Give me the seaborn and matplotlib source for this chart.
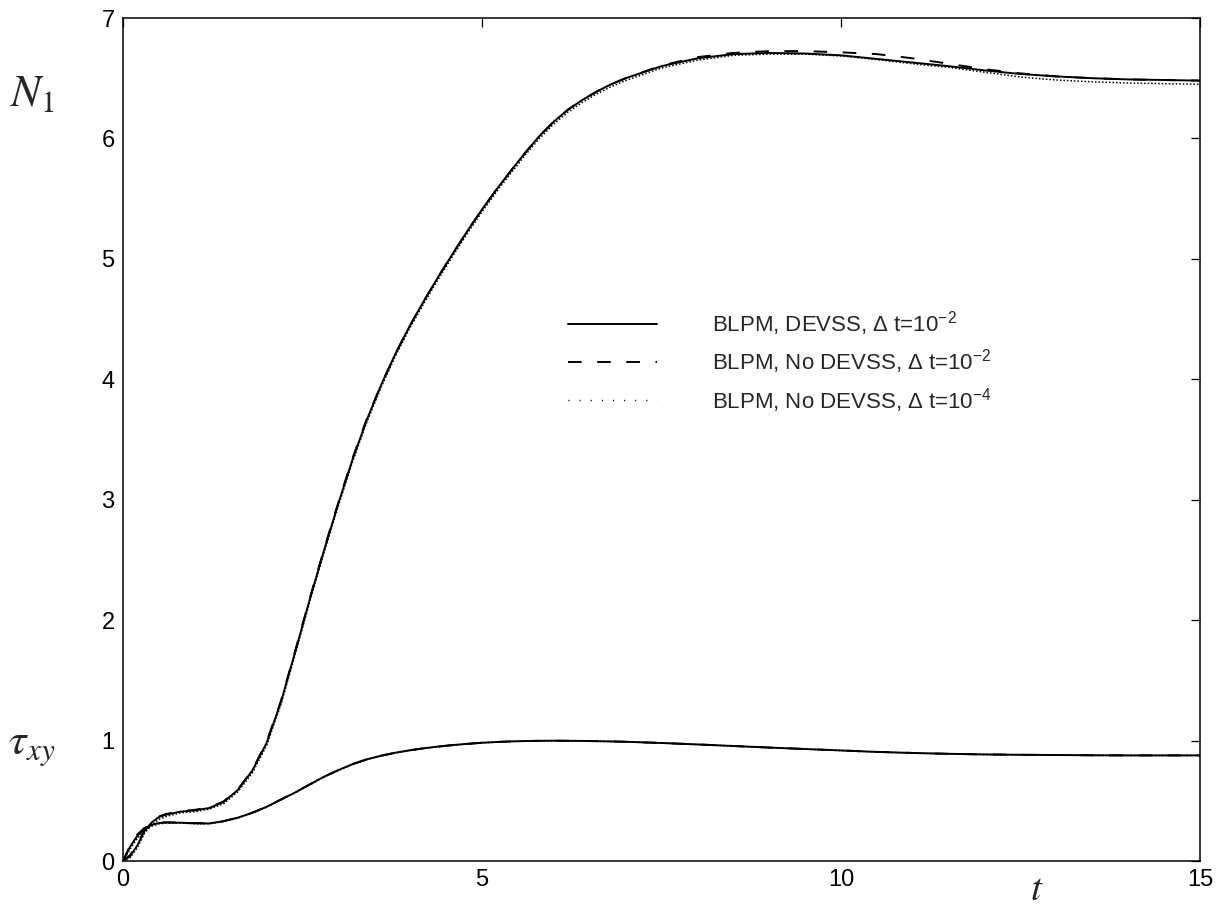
import numpy as np
import pandas as pd
import matplotlib
matplotlib.use("Agg")
import matplotlib.pyplot as plt
from matplotlib.lines import Line2D
import seaborn as sns

# Sample times (shared by all series)
t = [0.0, 0.1, 0.2, 0.3, 0.4, 0.5, 0.6, 0.8, 1.0, 1.2, 1.4, 1.6, 1.8, 2.0,
     2.2, 2.4, 2.6, 2.8, 3.0, 3.2, 3.4, 3.6, 3.8, 4.0, 4.2, 4.4, 4.6, 4.8,
     5.0, 5.2, 5.4, 5.6, 5.8, 6.0, 6.2, 6.4, 6.6, 6.8, 7.0, 7.5, 8.0, 8.5,
     9.0, 9.5, 10.0, 10.5, 11.0, 11.5, 12.0, 12.5, 13.0, 13.5, 14.0, 14.5,
     15.0]

# First normal stress difference N1
n1_devss_dt2 = [0.0, 0.04, 0.13, 0.25, 0.32, 0.365, 0.385, 0.41, 0.42, 0.44,
                0.49, 0.59, 0.75, 0.98, 1.32, 1.74, 2.17, 2.58, 2.97, 3.34,
                3.67, 3.96, 4.22, 4.45, 4.66, 4.86, 5.05, 5.235, 5.41, 5.575,
                5.73, 5.88, 6.02, 6.14, 6.24, 6.32, 6.39, 6.45, 6.50, 6.60,
                6.665, 6.70, 6.71, 6.705, 6.69, 6.66, 6.63, 6.60, 6.565,
                6.535, 6.515, 6.50, 6.49, 6.485, 6.48]
n1_nodevss_dt2 = [0.0, 0.05, 0.14, 0.26, 0.33, 0.37, 0.39, 0.415, 0.425, 0.445,
                  0.495, 0.595, 0.755, 0.99, 1.33, 1.75, 2.18, 2.59, 2.98,
                  3.35, 3.68, 3.96, 4.22, 4.45, 4.66, 4.86, 5.05, 5.235, 5.41,
                  5.575, 5.73, 5.88, 6.02, 6.14, 6.24, 6.32, 6.39, 6.45, 6.50,
                  6.605, 6.675, 6.71, 6.725, 6.725, 6.715, 6.70, 6.665, 6.62,
                  6.575, 6.54, 6.515, 6.50, 6.49, 6.485, 6.48]
n1_nodevss_dt4 = [0.0, 0.03, 0.11, 0.23, 0.30, 0.345, 0.37, 0.40, 0.41, 0.43,
                  0.475, 0.575, 0.73, 0.96, 1.30, 1.72, 2.15, 2.56, 2.95, 3.32,
                  3.65, 3.94, 4.20, 4.43, 4.64, 4.84, 5.03, 5.215, 5.39, 5.555,
                  5.71, 5.86, 6.00, 6.12, 6.22, 6.30, 6.37, 6.43, 6.48, 6.585,
                  6.65, 6.69, 6.70, 6.70, 6.685, 6.655, 6.62, 6.59, 6.55,
                  6.51, 6.485, 6.47, 6.46, 6.455, 6.45]

# Shear stress tau_xy
tau_devss_dt2 = [0.0, 0.12, 0.21, 0.27, 0.30, 0.315, 0.32, 0.318, 0.313, 0.312,
                 0.33, 0.36, 0.40, 0.45, 0.51, 0.57, 0.635, 0.70, 0.755, 0.805,
                 0.845, 0.875, 0.90, 0.92, 0.937, 0.951, 0.963, 0.973, 0.982,
                 0.988, 0.993, 0.996, 0.998, 0.999, 0.998, 0.997, 0.995, 0.993,
                 0.99, 0.98, 0.968, 0.955, 0.942, 0.93, 0.918, 0.906, 0.897,
                 0.89, 0.885, 0.882, 0.88, 0.878, 0.877, 0.877, 0.877]
tau_nodevss_dt2 = [0.0, 0.13, 0.22, 0.275, 0.303, 0.317, 0.321, 0.319, 0.314,
                   0.313, 0.331, 0.361, 0.401, 0.451, 0.511, 0.571, 0.636,
                   0.70, 0.755, 0.805, 0.845, 0.875, 0.90, 0.92, 0.937, 0.951,
                   0.963, 0.973, 0.982, 0.988, 0.993, 0.996, 0.998, 0.999,
                   0.998, 0.997, 0.995, 0.993, 0.99, 0.98, 0.968, 0.955, 0.942,
                   0.93, 0.918, 0.906, 0.897, 0.89, 0.885, 0.882, 0.88, 0.878,
                   0.877, 0.877, 0.877]
tau_nodevss_dt4 = [0.0, 0.10, 0.19, 0.255, 0.29, 0.308, 0.315, 0.314, 0.31,
                   0.309, 0.327, 0.357, 0.397, 0.447, 0.507, 0.567, 0.632,
                   0.697, 0.752, 0.802, 0.843, 0.873, 0.898, 0.918, 0.935,
                   0.95, 0.962, 0.972, 0.981, 0.987, 0.992, 0.995, 0.997,
                   0.998, 0.997, 0.996, 0.994, 0.992, 0.989, 0.979, 0.967,
                   0.954, 0.941, 0.929, 0.917, 0.905, 0.896, 0.889, 0.884,
                   0.881, 0.879, 0.877, 0.876, 0.876, 0.876]

labels = [r"BLPM, DEVSS, $\Delta$ t=10$^{-2}$",
          r"BLPM, No DEVSS, $\Delta$ t=10$^{-2}$",
          r"BLPM, No DEVSS, $\Delta$ t=10$^{-4}$"]

sns.set_style("white")
plt.rcParams["font.family"] = ["Liberation Sans", "DejaVu Sans"]
plt.rcParams["mathtext.fontset"] = "custom"
plt.rcParams["mathtext.rm"] = "Liberation Sans"
plt.rcParams["mathtext.it"] = "Liberation Sans:italic"
plt.rcParams["mathtext.sf"] = "Liberation Sans"

fig = plt.figure(figsize=(12.2, 9.09), dpi=100)
ax = fig.add_axes([123 / 1220, 48 / 909, 1077 / 1220, 843 / 909])

solid_style = dict(color="black", linewidth=1.4, linestyle="-")
dash_style = dict(color="black", linewidth=1.4, linestyle=(0, (7.0, 8.0)))
dot_style = dict(color="black", linewidth=1.1, linestyle=(0, (1.0, 1.3)))

series = [
    (n1_devss_dt2, tau_devss_dt2, solid_style),
    (n1_nodevss_dt2, tau_nodevss_dt2, dash_style),
    (n1_nodevss_dt4, tau_nodevss_dt4, dot_style),
]
for n1_vals, tau_vals, style in series:
    df = pd.DataFrame({"t": t, "N1": n1_vals, "tau": tau_vals})
    sns.lineplot(data=df, x="t", y="N1", ax=ax, legend=False, **style)
    sns.lineplot(data=df, x="t", y="tau", ax=ax, legend=False, **style)

ax.set_xlim(0, 15)
ax.set_ylim(0, 7)
ax.set_xticks([0, 5, 10, 15])
ax.set_yticks(range(0, 8))
ax.set_xlabel("")
ax.set_ylabel("")
ax.tick_params(direction="in", length=6.5, width=0.9, top=True, right=True,
               labelsize=17, pad=6, colors="black")
for sp in ax.spines.values():
    sp.set_color("black")
    sp.set_linewidth(1.1)

# Axis annotations in italic math type
fig.text(10 / 1220, 1 - 95 / 909, r"$N_1$", fontsize=32, math_fontfamily="stix",
         va="center", ha="left")
fig.text(8 / 1220, 1 - 747 / 909, r"$\tau_{xy}$", fontsize=32,
         math_fontfamily="stix", va="center", ha="left")
fig.text(1037 / 1220, 1 - 900 / 909, r"$t$", fontsize=28,
         math_fontfamily="stix", va="baseline", ha="center")

handles = [
    Line2D([], [], color="black", linewidth=1.4, linestyle="-"),
    Line2D([], [], color="black", linewidth=1.4, linestyle=(0, (7.0, 8.0))),
    Line2D([], [], color="black", linewidth=1.0, linestyle=(0, (0.8, 7.2))),
]
leg = ax.legend(handles, labels, loc="center left",
                bbox_to_anchor=((568 - 123) / 1077, (861 - 362) / 843),
                frameon=False, fontsize=16, handlelength=4.0,
                handletextpad=2.5, labelspacing=0.42, borderpad=0,
                borderaxespad=0)

fig.savefig("out.png", dpi=100, facecolor="white")
